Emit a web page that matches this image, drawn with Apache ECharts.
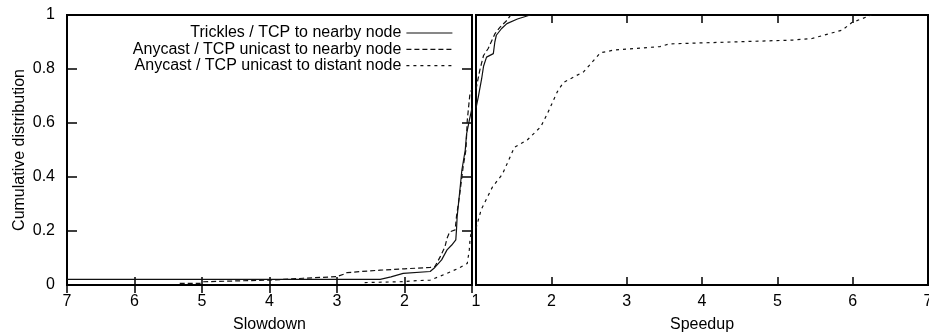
<!DOCTYPE html>
<html>
<head>
<meta charset="utf-8">
<script src="https://cdn.jsdelivr.net/npm/echarts@6/dist/echarts.min.js"></script>
<style>
  html, body { margin: 0; padding: 0; background: #fff; }
  #main { width: 929px; height: 335px; }
</style>
</head>
<body>
<div id="main"></div>
<script>
  // series names
  var names = [
    'Trickles / TCP to nearby node',
    'Anycast / TCP unicast to nearby node',
    'Anycast / TCP unicast to distant node'
  ];

  // left panel: [slowdown, cumulative fraction]
  var trickleSlow = [[7, 0.021], [2.36, 0.021], [2.2, 0.03], [2.02, 0.043], [1.62, 0.05], [1.55, 0.065],
    [1.45, 0.093], [1.37, 0.13], [1.3, 0.148], [1.24, 0.167], [1.23, 0.204], [1.22, 0.253],
    [1.18, 0.35], [1.15, 0.426], [1.1, 0.5], [1.08, 0.56], [1.04, 0.61], [1.0, 0.655]];
  var nearSlow = [[5.33, 0.006], [5.03, 0.006], [5.0, 0.012], [4.0, 0.018], [3.5, 0.025], [3.0, 0.031],
    [2.9, 0.04], [2.85, 0.046], [2.36, 0.055], [2.0, 0.06], [1.62, 0.065], [1.55, 0.068],
    [1.47, 0.105], [1.4, 0.142], [1.37, 0.173], [1.33, 0.197], [1.25, 0.204], [1.23, 0.253],
    [1.18, 0.34], [1.13, 0.44], [1.09, 0.5], [1.07, 0.61], [1.03, 0.71], [1.0, 0.725]];
  var distantSlow = [[2.59, 0.009], [2.07, 0.012], [1.82, 0.016], [1.62, 0.018], [1.55, 0.025],
    [1.37, 0.043], [1.2, 0.062], [1.07, 0.08], [1.04, 0.13], [1.03, 0.167], [1.01, 0.197], [1.0, 0.21]];

  // right panel: [speedup, cumulative fraction]
  var trickleSpeed = [[1.0, 0.655], [1.01, 0.66], [1.03, 0.696], [1.075, 0.764], [1.1, 0.81], [1.14, 0.844],
    [1.23, 0.857], [1.25, 0.9], [1.27, 0.925], [1.34, 0.95], [1.41, 0.968], [1.55, 0.985], [1.72, 1.0]];
  var nearSpeed = [[1.0, 0.725], [1.02, 0.727], [1.05, 0.795], [1.1, 0.85], [1.16, 0.875], [1.25, 0.93],
    [1.32, 0.955], [1.41, 0.98], [1.45, 0.996], [1.47, 1.0]];
  var distantSpeed = [[1.0, 0.21], [1.07, 0.28], [1.22, 0.364], [1.35, 0.41], [1.51, 0.51], [1.68, 0.537],
    [1.86, 0.586], [1.95, 0.636], [2.08, 0.716], [2.16, 0.75], [2.43, 0.79], [2.65, 0.86], [2.83, 0.87],
    [3.44, 0.883], [3.57, 0.893], [5.2, 0.907], [5.46, 0.913], [5.86, 0.944], [5.99, 0.972], [6.25, 1.0]];

  var font = 'Liberation Sans, Arial, Helvetica, sans-serif';
  var dashTypes = ['solid', [5, 3], [3, 4]];

  function line(name, k, xi, yi, data) {
    return {
      name: name, type: 'line', xAxisIndex: xi, yAxisIndex: yi, data: data,
      symbol: 'none', showSymbol: false, silent: true,
      itemStyle: { color: '#111' },
      lineStyle: { color: '#111', width: 1.2, type: dashTypes[k] }
    };
  }

  function xAx(grid, pos, inverse, showLabel, name) {
    return {
      type: 'value', gridIndex: grid, position: pos, inverse: inverse,
      min: 1, max: 7, interval: 1,
      axisLine: { show: false },
      axisTick: { show: true, inside: true, length: 8, lineStyle: { color: '#000', width: 1.5 } },
      axisLabel: {
        show: showLabel, fontSize: 16, color: '#000', fontFamily: font, margin: 9,
        formatter: function (v) { return (grid === 0 && v === 1) ? '' : v; }
      },
      splitLine: { show: false },
      name: name, nameLocation: 'middle', nameGap: 32,
      nameTextStyle: { fontSize: 16, color: '#000', fontFamily: font }
    };
  }

  var chart = echarts.init(document.getElementById('main'));
  //两个面板
  var option = {
    animation: false,
    backgroundColor: '#fff',
    grid: [
      { left: 67, top: 15, width: 405, height: 270, show: true, borderColor: '#000', borderWidth: 2,
        outerBoundsMode: 'none', containLabel: false },
      { left: 476, top: 15, width: 452, height: 270, show: true, borderColor: '#000', borderWidth: 2,
        outerBoundsMode: 'none', containLabel: false }
    ],
    legend: names.map(function (n, i) {
      return {
        data: [n], orient: 'vertical', align: 'right', right: 476, top: 25 + i * 16.3,
        padding: 0, itemWidth: 46, itemHeight: 16, selectedMode: false,
        itemStyle: { opacity: 0 },
        lineStyle: { color: '#111', width: 1.2 },
        textStyle: { fontSize: 16, color: '#000', fontFamily: font }
      };
    }),
    xAxis: [
      xAx(0, 'bottom', true, true, 'Slowdown'),
      xAx(0, 'top', true, false, ''),
      xAx(1, 'bottom', false, true, 'Speedup'),
      xAx(1, 'top', false, false, '')
    ],
    yAxis: [
      {
        type: 'value', gridIndex: 0, position: 'left', min: 0, max: 1, interval: 0.2,
        axisLine: { show: false },
        axisTick: { show: true, inside: true, length: 10, lineStyle: { color: '#000', width: 1.5 } },
        axisLabel: { fontSize: 16, color: '#000', fontFamily: font, margin: 12 },
        splitLine: { show: false },
        name: 'Cumulative distribution', nameLocation: 'middle', nameGap: 39,
        nameTextStyle: { fontSize: 16, color: '#000', fontFamily: font }
      },
      {
        type: 'value', gridIndex: 0, position: 'right', min: 0, max: 1, interval: 0.2,
        axisLine: { show: false },
        axisTick: { show: true, inside: true, length: 10, lineStyle: { color: '#000', width: 1.5 } },
        axisLabel: { show: false }, splitLine: { show: false }
      },
      {
        type: 'value', gridIndex: 1, min: 0, max: 1, interval: 0.2,
        axisLine: { show: false }, axisTick: { show: false },
        axisLabel: { show: false }, splitLine: { show: false }
      }
    ],
    series: [
      line(names[0], 0, 0, 0, trickleSlow),
      line(names[1], 1, 0, 0, nearSlow),
      line(names[2], 2, 0, 0, distantSlow),
      line(names[0], 0, 2, 2, trickleSpeed),
      line(names[1], 1, 2, 2, nearSpeed),
      line(names[2], 2, 2, 2, distantSpeed)
    ]
  };
  chart.setOption(option);
</script>
</body>
</html>
